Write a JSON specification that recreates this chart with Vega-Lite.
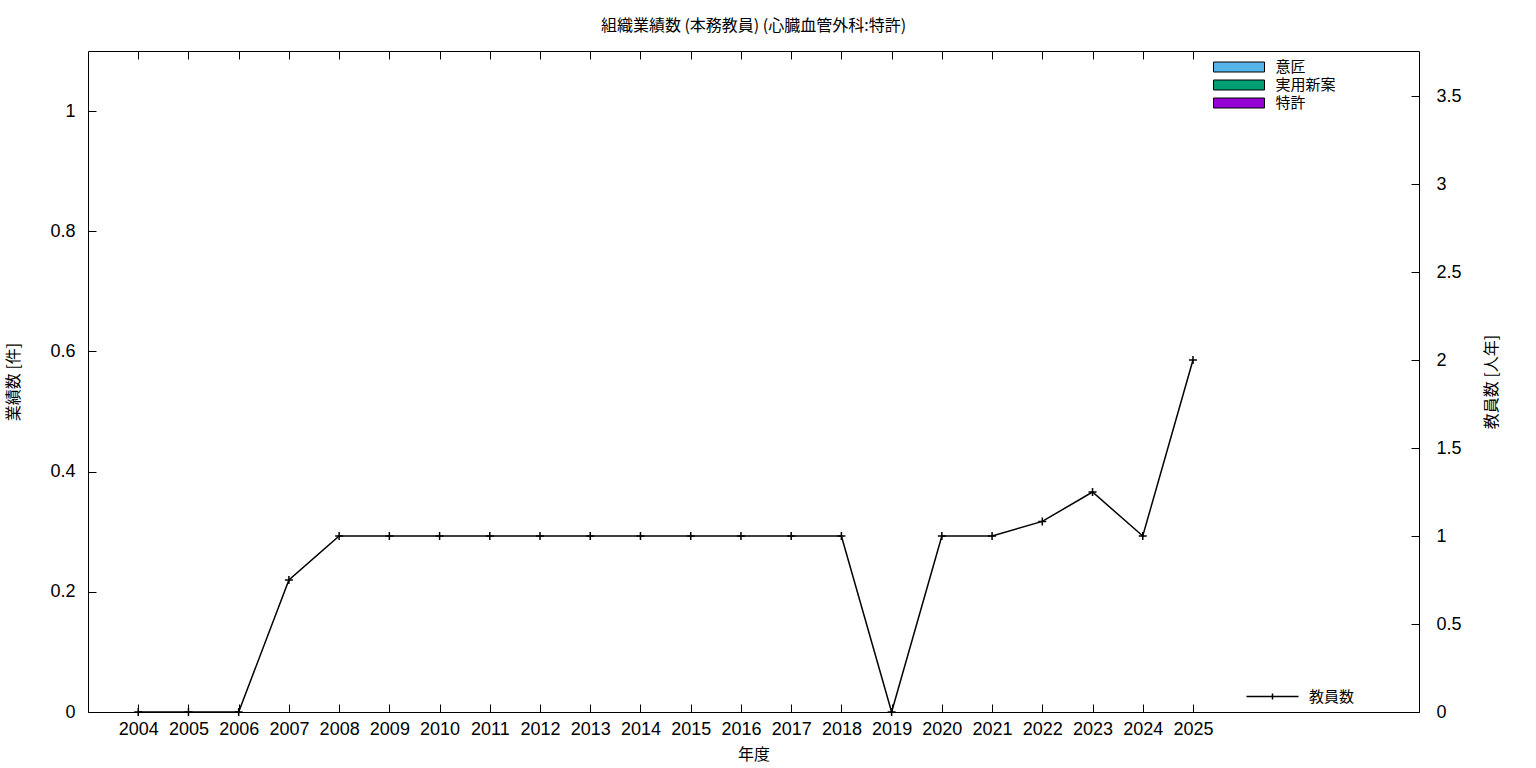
{
  "$schema": "https://vega.github.io/schema/vega-lite/v6.json",
  "width": 1331,
  "height": 661,
  "autosize": {"type": "none"},
  "padding": {"left": 88, "top": 51, "right": 117, "bottom": 56},
  "background": "white",
  "config": {
    "font": "Liberation Sans, Noto Sans CJK JP",
    "view": {"stroke": "black", "strokeWidth": 1},
    "axis": {
      "domain": false,
      "grid": false,
      "tickColor": "black",
      "tickWidth": 1,
      "tickSize": -8,
      "labelColor": "black",
      "labelFontSize": 18,
      "labelFont": "Liberation Sans, Noto Sans CJK JP",
      "titleColor": "black",
      "titleFontSize": 16,
      "titleFontWeight": "normal",
      "titleFont": "Noto Sans CJK JP"
    },
    "legend": {
      "labelFont": "Noto Sans CJK JP",
      "labelFontSize": 15,
      "labelColor": "black"
    }
  },
  "title": {
    "text": "組織業績数 (本務教員) (心臓血管外科:特許)",
    "font": "Noto Sans CJK JP",
    "fontSize": 16,
    "fontWeight": "normal",
    "color": "black",
    "offset": 17
  },
  "datasets": {
    "bars": [
      {"year": 2004, "type": "意匠", "count": 0}, {"year": 2004, "type": "実用新案", "count": 0}, {"year": 2004, "type": "特許", "count": 0},
      {"year": 2005, "type": "意匠", "count": 0}, {"year": 2005, "type": "実用新案", "count": 0}, {"year": 2005, "type": "特許", "count": 0},
      {"year": 2006, "type": "意匠", "count": 0}, {"year": 2006, "type": "実用新案", "count": 0}, {"year": 2006, "type": "特許", "count": 0},
      {"year": 2007, "type": "意匠", "count": 0}, {"year": 2007, "type": "実用新案", "count": 0}, {"year": 2007, "type": "特許", "count": 0},
      {"year": 2008, "type": "意匠", "count": 0}, {"year": 2008, "type": "実用新案", "count": 0}, {"year": 2008, "type": "特許", "count": 0},
      {"year": 2009, "type": "意匠", "count": 0}, {"year": 2009, "type": "実用新案", "count": 0}, {"year": 2009, "type": "特許", "count": 0},
      {"year": 2010, "type": "意匠", "count": 0}, {"year": 2010, "type": "実用新案", "count": 0}, {"year": 2010, "type": "特許", "count": 0},
      {"year": 2011, "type": "意匠", "count": 0}, {"year": 2011, "type": "実用新案", "count": 0}, {"year": 2011, "type": "特許", "count": 0},
      {"year": 2012, "type": "意匠", "count": 0}, {"year": 2012, "type": "実用新案", "count": 0}, {"year": 2012, "type": "特許", "count": 0},
      {"year": 2013, "type": "意匠", "count": 0}, {"year": 2013, "type": "実用新案", "count": 0}, {"year": 2013, "type": "特許", "count": 0},
      {"year": 2014, "type": "意匠", "count": 0}, {"year": 2014, "type": "実用新案", "count": 0}, {"year": 2014, "type": "特許", "count": 0},
      {"year": 2015, "type": "意匠", "count": 0}, {"year": 2015, "type": "実用新案", "count": 0}, {"year": 2015, "type": "特許", "count": 0},
      {"year": 2016, "type": "意匠", "count": 0}, {"year": 2016, "type": "実用新案", "count": 0}, {"year": 2016, "type": "特許", "count": 0},
      {"year": 2017, "type": "意匠", "count": 0}, {"year": 2017, "type": "実用新案", "count": 0}, {"year": 2017, "type": "特許", "count": 0},
      {"year": 2018, "type": "意匠", "count": 0}, {"year": 2018, "type": "実用新案", "count": 0}, {"year": 2018, "type": "特許", "count": 0},
      {"year": 2019, "type": "意匠", "count": 0}, {"year": 2019, "type": "実用新案", "count": 0}, {"year": 2019, "type": "特許", "count": 0},
      {"year": 2020, "type": "意匠", "count": 0}, {"year": 2020, "type": "実用新案", "count": 0}, {"year": 2020, "type": "特許", "count": 0},
      {"year": 2021, "type": "意匠", "count": 0}, {"year": 2021, "type": "実用新案", "count": 0}, {"year": 2021, "type": "特許", "count": 0},
      {"year": 2022, "type": "意匠", "count": 0}, {"year": 2022, "type": "実用新案", "count": 0}, {"year": 2022, "type": "特許", "count": 0},
      {"year": 2023, "type": "意匠", "count": 0}, {"year": 2023, "type": "実用新案", "count": 0}, {"year": 2023, "type": "特許", "count": 0},
      {"year": 2024, "type": "意匠", "count": 0}, {"year": 2024, "type": "実用新案", "count": 0}, {"year": 2024, "type": "特許", "count": 0},
      {"year": 2025, "type": "意匠", "count": 0}, {"year": 2025, "type": "実用新案", "count": 0}, {"year": 2025, "type": "特許", "count": 0}
    ],
    "staff": [
      {"year": 2004, "teachers": 0},
      {"year": 2005, "teachers": 0},
      {"year": 2006, "teachers": 0},
      {"year": 2007, "teachers": 0.75},
      {"year": 2008, "teachers": 1},
      {"year": 2009, "teachers": 1},
      {"year": 2010, "teachers": 1},
      {"year": 2011, "teachers": 1},
      {"year": 2012, "teachers": 1},
      {"year": 2013, "teachers": 1},
      {"year": 2014, "teachers": 1},
      {"year": 2015, "teachers": 1},
      {"year": 2016, "teachers": 1},
      {"year": 2017, "teachers": 1},
      {"year": 2018, "teachers": 1},
      {"year": 2019, "teachers": 0},
      {"year": 2020, "teachers": 1},
      {"year": 2021, "teachers": 1},
      {"year": 2022, "teachers": 1.083},
      {"year": 2023, "teachers": 1.25},
      {"year": 2024, "teachers": 1},
      {"year": 2025, "teachers": 2}
    ]
  },
  "layer": [
    {
      "data": {"name": "bars"},
      "mark": {"type": "bar", "width": 40, "strokeWidth": 0},
      "encoding": {
        "x": {
          "field": "year", "type": "quantitative",
          "scale": {"domain": [2003, 2029.5], "nice": false, "zero": false, "padding": 0},
          "axis": {
            "orient": "bottom",
            "values": [2004,2005,2006,2007,2008,2009,2010,2011,2012,2013,2014,2015,2016,2017,2018,2019,2020,2021,2022,2023,2024,2025],
            "format": "d",
            "labelPadding": 16,
            "labelFlush": false,
            "title": "年度",
            "titlePadding": 8
          }
        },
        "y": {
          "aggregate": "sum", "field": "count", "type": "quantitative",
          "scale": {"domain": [0, 1.1], "nice": false},
          "axis": {
            "orient": "left",
            "values": [0, 0.2, 0.4, 0.6, 0.8, 1],
            "format": ".1~f",
            "labelPadding": 21,
            "title": "業績数 [件]",
            "titlePadding": 28
          }
        },
        "fill": {
          "field": "type", "type": "nominal",
          "scale": {"domain": ["意匠", "実用新案", "特許"], "range": ["#56b4e9", "#009e73", "#9400d3"]},
          "legend": {
            "title": null,
            "orient": "none",
            "legendX": 1143.5,
            "legendY": 8.5,
            "padding": 0,
            "symbolType": "M-5.1,-1H5.1V1H-5.1Z",
            "symbolSize": 100,
            "symbolStrokeColor": "black",
            "symbolStrokeWidth": 1,
            "symbolOpacity": 1,
            "labelOffset": 29,
            "rowPadding": 2
          }
        }
      }
    },
    {
      "data": {"name": "staff"},
      "layer": [
        {
          "mark": {"type": "line", "color": "black", "strokeWidth": 1.5},
          "encoding": {
            "x": {
              "field": "year", "type": "quantitative",
              "axis": {
                "orient": "top",
                "values": [2004,2005,2006,2007,2008,2009,2010,2011,2012,2013,2014,2015,2016,2017,2018,2019,2020,2021,2022,2023,2024,2025],
                "labels": false,
                "title": null
              }
            },
            "y": {
              "field": "teachers", "type": "quantitative",
              "scale": {"domain": [0, 3.756], "nice": false},
              "axis": {
                "orient": "right",
                "values": [0, 0.5, 1, 1.5, 2, 2.5, 3, 3.5],
                "format": ".1~f",
                "labelPadding": 25,
                "title": "教員数 [人年]",
                "titleAngle": 270,
                "titlePadding": 38
              }
            },
            "stroke": {
              "datum": "教員数",
              "scale": {"range": ["black"]},
              "legend": {
                "title": null,
                "orient": "none",
                "legendX": 1177,
                "legendY": 638,
                "padding": 0,
                "symbolType": "M-5.2,0H5.2M0,-0.6V0.6",
                "symbolSize": 100,
                "symbolStrokeWidth": 1.5,
                "labelOffset": 29
              }
            }
          }
        },
        {
          "mark": {"type": "point", "shape": "M-1,0H1M0,-1V1", "size": 64, "filled": false, "color": "black", "strokeWidth": 1.5, "opacity": 1},
          "encoding": {
            "x": {"field": "year", "type": "quantitative"},
            "y": {"field": "teachers", "type": "quantitative"}
          }
        }
      ]
    }
  ],
  "resolve": {"scale": {"y": "independent", "fill": "independent", "stroke": "independent"}, "axis": {"x": "independent", "y": "independent"}}
}
